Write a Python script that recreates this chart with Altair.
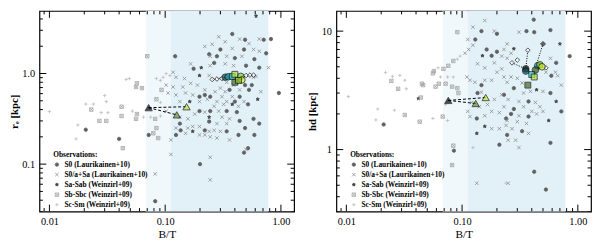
import altair as alt
import pandas as pd

# ---------------- data ----------------
CATS = ["S0 (Laurikainen+10)", "S0/a+Sa (Laurikainen+10)", "Sa-Sab (Weinzirl+09)",
        "Sb-Sbc (Weinzirl+09)", "Sc-Sm (Weinzirl+09)"]

# left panel: (B/T, r_e)
L_S0 = [(0.0206, 0.24), (0.040, 0.19), (0.122, 1.55), (0.24, 1.63), (0.176, 1.13), (0.198, 0.555),
        (0.22, 0.58), (0.134, 0.28), (0.198, 0.385), (0.136, 0.236), (0.22, 0.236), (0.072, 0.21),
        (0.124, 0.21), (0.20, 0.10), (0.082, 0.039), (0.38, 2.73), (0.71, 2.36), (0.82, 2.4),
        (0.49, 2.36), (0.30, 1.84), (0.48, 1.84), (0.746, 1.67), (0.28, 1.55), (0.40, 1.48),
        (0.59, 1.44), (0.265, 1.31), (0.50, 1.22), (0.65, 1.16), (0.49, 0.745), (0.56, 0.745),
        (0.36, 0.66), (0.53, 0.66), (0.245, 0.555), (0.44, 0.555), (0.40, 0.49), (0.52, 0.457),
        (0.245, 0.385), (0.34, 0.385), (0.416, 0.375), (0.44, 0.30), (0.58, 0.316), (0.24, 0.295),
        (0.49, 0.25), (0.65, 0.28), (0.34, 0.23), (0.43, 0.21), (0.59, 0.21), (0.48, 0.134),
        (0.96, 0.61), (0.52, 0.15)]
L_S0A = [(0.22, 1.99), (0.166, 1.28), (0.245, 1.22), (0.117, 1.03), (0.124, 0.91), (0.147, 0.88),
         (0.24, 0.95), (0.102, 0.745), (0.117, 0.71), (0.142, 0.71), (0.166, 0.78), (0.19, 0.745),
         (0.22, 0.66), (0.106, 0.61), (0.124, 0.58), (0.15, 0.61), (0.173, 0.58), (0.134, 0.49),
         (0.198, 0.49), (0.231, 0.52), (0.102, 0.385), (0.134, 0.33), (0.157, 0.316), (0.18, 0.357),
         (0.22, 0.375), (0.124, 0.25), (0.157, 0.25), (0.173, 0.26), (0.198, 0.26), (0.24, 0.23),
         (0.15, 0.219), (0.198, 0.21), (0.22, 0.21), (0.245, 0.20), (0.112, 0.185), (0.112, 0.128),
         (0.082, 0.078), (0.29, 2.54), (0.33, 2.24), (0.44, 2.4), (0.53, 2.14), (0.255, 2.1),
         (0.38, 1.89), (0.58, 1.84), (0.65, 1.76), (0.245, 1.55), (0.34, 1.55), (0.46, 1.55),
         (0.33, 1.28), (0.39, 1.22), (0.78, 1.16), (0.58, 0.91), (0.34, 0.80), (0.39, 0.745),
         (0.44, 0.80), (0.30, 0.69), (0.27, 0.63), (0.33, 0.63), (0.44, 0.66), (0.67, 0.63),
         (0.31, 0.555), (0.38, 0.555), (0.28, 0.49), (0.34, 0.49), (0.48, 0.49), (0.265, 0.435),
         (0.32, 0.457), (0.43, 0.435), (0.29, 0.385), (0.31, 0.33), (0.36, 0.316), (0.28, 0.28),
         (0.34, 0.28), (0.265, 0.236), (0.30, 0.23), (0.28, 0.194), (0.36, 0.185), (0.50, 0.145),
         (0.245, 0.119), (0.65, 2.4), (0.245, 0.067), (0.61, 0.93)]
L_SAB = [(0.205, 1.16), (0.198, 0.95), (0.163, 0.49), (0.24, 0.33), (0.173, 0.23), (0.61, 4.3),
         (0.63, 0.52), (0.38, 0.457)]
L_SBC = [(0.023, 0.40), (0.027, 0.30), (0.031, 0.30), (0.042, 0.43), (0.042, 0.34), (0.043, 0.15),
         (0.070, 1.55), (0.057, 0.78), (0.056, 0.71), (0.063, 0.69), (0.093, 0.66), (0.084, 0.52),
         (0.057, 0.357), (0.056, 0.316), (0.082, 0.316), (0.084, 0.25), (0.079, 0.219), (0.087, 0.194)]
L_SCM = [(0.010, 0.38), (0.046, 0.86), (0.0206, 0.46), (0.024, 0.46), (0.030, 0.57), (0.031, 0.49),
         (0.028, 0.37), (0.032, 0.37), (0.0176, 0.27), (0.017, 0.19), (0.091, 0.84), (0.102, 1.0),
         (0.110, 0.95), (0.096, 0.91), (0.084, 0.88), (0.049, 0.88), (0.091, 0.48), (0.052, 0.385),
         (0.065, 0.33), (0.075, 0.33), (0.091, 0.34)]

# right panel: (B/T, h_d)
R_S0 = [(0.021, 1.63), (0.147, 10.0), (0.20, 9.5), (0.147, 3.5), (0.136, 3.0), (0.163, 7.0),
        (0.18, 6.2), (0.20, 6.7), (0.134, 1.83), (0.24, 1.83), (0.21, 1.1), (0.416, 12.5),
        (0.36, 10.0), (0.42, 9.8), (0.58, 10.2), (0.85, 6.15), (0.65, 5.4), (0.59, 4.2), (0.28, 3.3),
        (0.58, 3.0), (0.23, 2.9), (0.375, 2.55), (0.28, 2.2), (0.72, 2.1), (0.265, 2.0), (0.375, 1.9),
        (0.33, 1.43), (0.245, 1.33), (0.58, 1.14), (0.42, 0.65), (0.53, 0.46), (0.13, 8.5),
        (0.085, 0.98)]
R_S0A = [(0.157, 12.3), (0.124, 10.8), (0.19, 10.0), (0.112, 8.5), (0.124, 7.6), (0.114, 7.0),
         (0.106, 6.5), (0.23, 7.0), (0.22, 6.15), (0.136, 5.3), (0.157, 4.9), (0.19, 5.4), (0.22, 4.8),
         (0.20, 4.5), (0.23, 4.1), (0.110, 4.1), (0.117, 3.85), (0.129, 3.7), (0.157, 3.85),
         (0.18, 3.85), (0.147, 3.05), (0.19, 2.65), (0.22, 2.9), (0.166, 2.4), (0.141, 2.3),
         (0.121, 2.5), (0.112, 2.1), (0.117, 1.9), (0.157, 1.93), (0.18, 2.1), (0.21, 2.05),
         (0.18, 1.5), (0.21, 1.5), (0.24, 1.6), (0.31, 9.8), (0.245, 7.8), (0.265, 6.5), (0.245, 5.9),
         (0.58, 5.9), (0.53, 4.5), (0.64, 4.5), (0.67, 4.2), (0.72, 3.5), (0.265, 4.1), (0.30, 4.0),
         (0.245, 3.7), (0.33, 3.65), (0.34, 3.0), (0.39, 3.1), (0.50, 3.1), (0.25, 2.65), (0.31, 2.55),
         (0.43, 2.5), (0.23, 2.3), (0.34, 2.3), (0.40, 2.1), (0.47, 2.3), (0.31, 1.93), (0.44, 2.0),
         (0.50, 2.1), (0.245, 1.76), (0.30, 1.72), (0.36, 1.66), (0.27, 1.5), (0.375, 1.37),
         (0.25, 1.2), (0.29, 1.2), (0.31, 1.04), (0.25, 0.52), (0.134, 0.52)]
R_SAB = [(0.042, 2.7), (0.15, 6.2), (0.157, 1.57), (0.70, 7.8), (0.28, 7.1), (0.44, 3.2),
         (0.65, 2.55), (0.56, 1.76), (0.134, 1.37)]
R_SBC = [(0.0245, 3.8), (0.028, 3.26), (0.045, 3.6), (0.044, 2.75), (0.032, 1.96), (0.043, 1.72),
         (0.084, 5.6), (0.076, 5.1), (0.069, 4.8), (0.057, 4.6), (0.056, 4.4), (0.063, 3.6),
         (0.072, 3.6), (0.059, 3.4), (0.082, 3.4), (0.091, 3.3), (0.093, 3.0), (0.068, 1.9),
         (0.084, 1.08), (0.082, 0.74), (0.046, 3.5), (0.091, 9.8)]
R_SCM = [(0.0104, 2.8), (0.0218, 4.47), (0.025, 4.15), (0.029, 4.23), (0.032, 3.85), (0.033, 3.26),
         (0.0187, 2.2), (0.026, 2.15), (0.018, 1.78), (0.096, 6.15), (0.091, 5.8), (0.062, 4.9),
         (0.065, 4.1), (0.075, 4.1), (0.084, 4.1), (0.072, 2.41), (0.075, 1.76), (0.056, 1.83),
         (0.124, 1.04), (0.24, 0.52)]

# model points
L_TRI = [(0.072, 0.42, "#000000"), (0.126, 0.35, "#6b8e23"), (0.153, 0.43, "#c8e632")]
L_TRI_LINKS = [(0.072, 0.42, 0.126, 0.35), (0.072, 0.42, 0.153, 0.43)]
L_DIAM = [(0.255, 0.86), (0.28, 0.87), (0.31, 0.88), (0.50, 0.95), (0.54, 0.96), (0.58, 0.96)]
L_DOTLINKS = [(0.255, 0.86, 0.33, 0.91), (0.46, 0.93, 0.58, 0.96)]
L_CIRC = [(0.33, 0.91, "#0b4f5c"), (0.35, 0.92, "#1b9aa0"), (0.45, 0.93, "#7ccf3a"), (0.46, 0.85, "#d4ee2a")]
L_SQR = [(0.38, 0.93, "#2ac7c7"), (0.40, 0.98, "#b7e03a"), (0.40, 0.80, "#3f6b1e"), (0.43, 0.84, "#8abf2a")]

R_TRI = [(0.076, 2.6, "#000000"), (0.131, 2.45, "#6b8e23"), (0.16, 2.75, "#c8e632")]
R_TRI_LINKS = [(0.076, 2.6, 0.131, 2.45), (0.076, 2.6, 0.16, 2.75)]
R_DIAM = [(0.27, 5.4), (0.30, 5.7), (0.37, 6.9), (0.53, 4.9)]
R_DOTLINKS = [(0.355, 4.8, 0.37, 6.9), (0.43, 4.9, 0.50, 7.8), (0.27, 5.4, 0.355, 4.8), (0.49, 5.0, 0.53, 4.9)]
R_DDIAM = [(0.50, 7.8)]
R_CIRC = [(0.355, 4.8, "#000000"), (0.355, 4.6, "#0b4f5c"), (0.45, 5.1, "#1b9aa0"), (0.47, 5.2, "#7ccf3a"),
          (0.49, 5.0, "#d4ee2a"), (0.43, 4.7, "#2e5e1e")]
R_SQR = [(0.40, 4.3, "#2ac7c7"), (0.42, 4.1, "#b7e03a"), (0.37, 3.5, "#3f6b1e")]

# hatched B/T ranges
HATCH_LIGHT = [(0.068, 0.112)]
HATCH_DENSE = [(0.112, 0.78)]

X_MAJOR = [0.01, 0.1, 1.0]
X_MINOR = [0.009, 0.02, 0.03, 0.04, 0.05, 0.06, 0.07, 0.08, 0.09, 0.2, 0.3, 0.4, 0.5, 0.6, 0.7, 0.8, 0.9]
L_Y_MAJOR = [0.1, 1.0]
L_Y_MINOR = [0.03, 0.04, 0.05, 0.06, 0.07, 0.08, 0.09, 0.2, 0.3, 0.4, 0.5, 0.6, 0.7, 0.8, 0.9, 2, 3, 4]
R_Y_MAJOR = [1, 10]
R_Y_MINOR = [0.3, 0.4, 0.5, 0.6, 0.7, 0.8, 0.9, 2, 3, 4, 5, 6, 7, 8, 9]

# ---------------- chart ----------------
W, H = 259, 204
SERIF = "Liberation Serif"

SHAPES = ["circle",
          "M-1,-1L1,1M1,-1L-1,1",
          "M0,-1L0.24,-0.31L0.95,-0.31L0.38,0.12L0.59,0.81L0,0.4L-0.59,0.81L-0.38,0.12L-0.95,-0.31L-0.24,-0.31Z",
          "M-1,-1L1,-1L1,1L-1,1Z M-1,-1L1,1M1,-1L-1,1",
          "M-1,0L1,0M0,-1L0,1"]
FILLS = ["#606060", "transparent", "#404040", "transparent", "transparent"]
STROKES = ["#606060", "#8c8c8c", "#404040", "#a4a4a4", "#bcbcbc"]


def obs_frame(groups):
    rows = []
    for cat, pts in zip(CATS, groups):
        for bt, v in pts:
            rows.append({"bt": bt, "val": v, "cat": cat})
    return pd.DataFrame(rows)


def panel(groups, tri, tri_links, diam, dotlinks, ddiam, circ, sqr, ydom, ymaj, ymin, ytitle, yfmt, tpad):
    xs = alt.Scale(type="log", domain=[0.0082, 1.3], nice=False)
    ys = alt.Scale(type="log", domain=ydom, nice=False)

    xaxis = alt.Axis(values=X_MAJOR, labelExpr="format(datum.value, '.2f')", ticks=False, domain=False,
                     grid=False, labelFont=SERIF, labelFontSize=10.5, labelColor="black", labelPadding=5,
                     title="B/T", titleFont=SERIF, titleFontSize=11.5, titleFontWeight="normal",
                     titleColor="black", titlePadding=2, labelFlush=False)
    yaxis = alt.Axis(values=ymaj, labelExpr=f"format(datum.value, '{yfmt}')", ticks=False, domain=False,
                     grid=False, labelFont=SERIF, labelFontSize=10.5, labelColor="black", labelPadding=5,
                     title=ytitle, titleFont=SERIF, titleFontSize=11, titleFontWeight="bold",
                     titleColor="black", titlePadding=tpad)

    hl = pd.DataFrame([{"bt": a, "bt2": b} for a, b in HATCH_LIGHT])
    hd = pd.DataFrame([{"bt": a, "bt2": b} for a, b in HATCH_DENSE])
    hatch_l = alt.Chart(hl).mark_rect(color="#f1f8fc").encode(
        x=alt.X("bt:Q", scale=xs, axis=xaxis), x2="bt2:Q", y=alt.value(0), y2=alt.value(H))
    hatch_d = alt.Chart(hd).mark_rect(color="#e2f0f8").encode(
        x=alt.X("bt:Q", scale=xs), x2="bt2:Q", y=alt.value(0), y2=alt.value(H))

    obs = alt.Chart(obs_frame(groups)).mark_point(size=12, strokeWidth=0.8, opacity=1, clip=True).encode(
        x=alt.X("bt:Q", scale=xs),
        y=alt.Y("val:Q", scale=ys, axis=yaxis),
        shape=alt.Shape("cat:N", scale=alt.Scale(domain=CATS, range=SHAPES), legend=alt.Legend(
            orient="none", legendX=14, legendY=143, title="Observations:", titleFont=SERIF,
            titleFontSize=7.5, titleFontWeight="bold", labelFont=SERIF, labelFontSize=7.5,
            labelFontWeight="bold", labelColor="black", titleColor="black", symbolSize=12,
            rowPadding=1.2, titlePadding=2, labelOffset=4, symbolStrokeWidth=0.8, padding=0)),
        fill=alt.Fill("cat:N", scale=alt.Scale(domain=CATS, range=FILLS)),
        stroke=alt.Stroke("cat:N", scale=alt.Scale(domain=CATS, range=STROKES)),
    )

    def seg_df(links):
        return pd.DataFrame([{"bt": a, "val": b, "bt2": c, "val2": d} for a, b, c, d in links])

    dashed = alt.Chart(seg_df(tri_links)).mark_rule(color="black", strokeDash=[3, 2], strokeWidth=1).encode(
        x=alt.X("bt:Q", scale=xs), y=alt.Y("val:Q", scale=ys), x2="bt2:Q", y2="val2:Q")
    dotted = alt.Chart(seg_df(dotlinks)).mark_rule(color="black", strokeDash=[1, 1.5], strokeWidth=1).encode(
        x=alt.X("bt:Q", scale=xs), y=alt.Y("val:Q", scale=ys), x2="bt2:Q", y2="val2:Q")

    def col_df(pts):
        return pd.DataFrame([{"bt": a, "val": b, "c": c} for a, b, c in pts])

    def pt_df(pts):
        return pd.DataFrame([{"bt": a, "val": b} for a, b in pts])

    diam_l = alt.Chart(pt_df(diam)).mark_point(shape="diamond", filled=True, fill="white", stroke="black",
                                               strokeWidth=0.9, size=22).encode(
        x=alt.X("bt:Q", scale=xs), y=alt.Y("val:Q", scale=ys))
    layers = [hatch_l, hatch_d, obs, dashed, dotted, diam_l]
    if ddiam:
        layers.append(alt.Chart(pt_df(ddiam)).mark_point(shape="diamond", filled=True, fill="#333333",
                                                         stroke="black", strokeWidth=0.9, size=26).encode(
            x=alt.X("bt:Q", scale=xs), y=alt.Y("val:Q", scale=ys)))
    layers.append(alt.Chart(col_df(tri)).mark_point(shape="triangle-up", filled=True, stroke="black",
                                                    strokeWidth=0.9, size=55).encode(
        x=alt.X("bt:Q", scale=xs), y=alt.Y("val:Q", scale=ys), color=alt.Color("c:N", scale=None)))
    layers.append(alt.Chart(col_df(circ)).mark_point(shape="circle", filled=True, stroke="black",
                                                     strokeWidth=0.9, size=45).encode(
        x=alt.X("bt:Q", scale=xs), y=alt.Y("val:Q", scale=ys), color=alt.Color("c:N", scale=None)))
    layers.append(alt.Chart(col_df(sqr)).mark_point(shape="square", filled=True, stroke="black",
                                                    strokeWidth=0.9, size=36).encode(
        x=alt.X("bt:Q", scale=xs), y=alt.Y("val:Q", scale=ys), color=alt.Color("c:N", scale=None)))

    # inward tick marks on all four sides
    def xt(vals, y0, y1):
        return alt.Chart(pd.DataFrame({"bt": vals})).mark_rule(color="black", strokeWidth=1, clip=True).encode(
            x=alt.X("bt:Q", scale=xs), y=alt.value(y0), y2=alt.value(y1))

    def yt(vals, x0, x1):
        return alt.Chart(pd.DataFrame({"val": vals})).mark_rule(color="black", strokeWidth=1, clip=True).encode(
            y=alt.Y("val:Q", scale=ys), x=alt.value(x0), x2=alt.value(x1))

    layers += [xt(X_MAJOR, H, H - 7), xt(X_MINOR, H, H - 3.5), xt(X_MAJOR, 0, 7), xt(X_MINOR, 0, 3.5),
               yt(ymaj, 0, 7), yt(ymin, 0, 3.5), yt(ymaj, W, W - 7), yt(ymin, W, W - 3.5)]

    return alt.layer(*layers).properties(width=W, height=H)


left = panel([L_S0, L_S0A, L_SAB, L_SBC, L_SCM], L_TRI, L_TRI_LINKS, L_DIAM, L_DOTLINKS, [],
             L_CIRC, L_SQR, [0.03, 4.9], L_Y_MAJOR, L_Y_MINOR, "rₑ [kpc]", ".1f", 2)
right = panel([R_S0, R_S0A, R_SAB, R_SBC, R_SCM], R_TRI, R_TRI_LINKS, R_DIAM, R_DOTLINKS, R_DDIAM,
              R_CIRC, R_SQR, [0.30, 14.8], R_Y_MAJOR, R_Y_MINOR, "hd [kpc]", "d", 4)

chart = alt.hconcat(left, right, spacing=10).resolve_scale(
    shape="independent", fill="independent", stroke="independent", x="independent", y="independent"
).resolve_legend(shape="independent", fill="independent", stroke="independent").properties(
    padding=0
).configure_view(stroke="black", strokeWidth=1.2)

chart.save("out.html", embed_options={"renderer": "svg", "actions": False})
